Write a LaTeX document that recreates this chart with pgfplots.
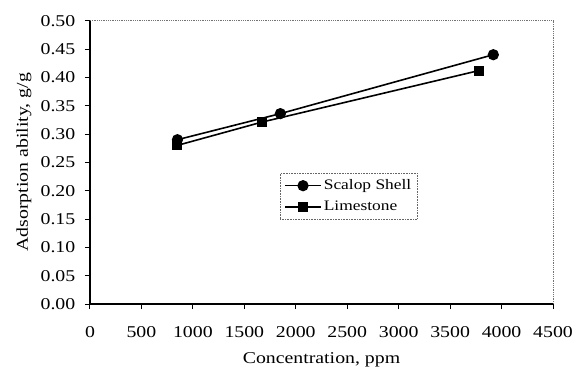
\documentclass[border=0pt]{standalone}
\usepackage{fontspec}
\setmainfont{Liberation Serif}[FakeStretch=1.2]
\usepackage{pgfplots}
\pgfplotsset{compat=1.18}
\begin{document}
\fontsize{16.5}{19}\selectfont
\begin{tikzpicture}[x=1pt,y=1pt]
\useasboundingbox (-90,-72) rectangle (485,304);
\begin{axis}[
  at={(0,0)}, anchor=origin,
  scale only axis, width=463pt, height=283.3pt,
  xmin=0, xmax=4500, ymin=0, ymax=0.5,
  xtick={0,500,...,4500}, ytick={0,0.05,...,0.5},
  axis x line*=bottom, axis y line*=left,
  axis line style={line width=1.2pt, black},
  tick align=outside,
  major tick length=5pt,
  tick style={line width=1pt, black},
  /pgf/number format/assume math mode=true,
  yticklabel style={/pgf/number format/.cd, fixed, fixed zerofill, precision=2, /tikz/.cd, xshift=-4pt},
  xticklabel style={/pgf/number format/.cd, set thousands separator={}, /tikz/.cd, yshift=-12pt},
  scaled y ticks=false, scaled x ticks=false,
  xlabel={Concentration, ppm},
  ylabel={Adsorption ability, g/g},
  xlabel style={yshift=-4pt},
  ylabel style={yshift=-2pt},
  legend style={at={(axis cs:1846,0.231)}, anchor=north west, draw=black!60, line width=0.6pt, densely dotted,
    font=\fontsize{14.5}{17}\selectfont, row sep=5pt, inner sep=4pt,
    /tikz/every even column/.append style={column sep=2pt}},
  legend cell align=left,
  legend image code/.code={\draw[#1, solid] (-4pt,0pt) -- (32pt,0pt); \draw[#1, solid, mark repeat=1] plot coordinates {(14pt,0pt)};},
  clip=false,
]
\addplot[black, line width=1.6pt, mark=*, mark size=4.8pt, mark options={solid, fill=black}] coordinates {
  (850,0.290) (1850,0.336) (3920,0.440)
};
\addlegendentry{Scalop Shell}
\addplot[black, line width=1.6pt, mark=square*, mark size=4.2pt, mark options={solid, fill=black}] coordinates {
  (850,0.280) (1670,0.321) (3780,0.412)
};
\addlegendentry{Limestone}
\draw[black!55, line width=0.8pt, densely dotted] (rel axis cs:0,1) -- (rel axis cs:1,1) -- (rel axis cs:1,0);
\end{axis}
\end{tikzpicture}
\end{document}
